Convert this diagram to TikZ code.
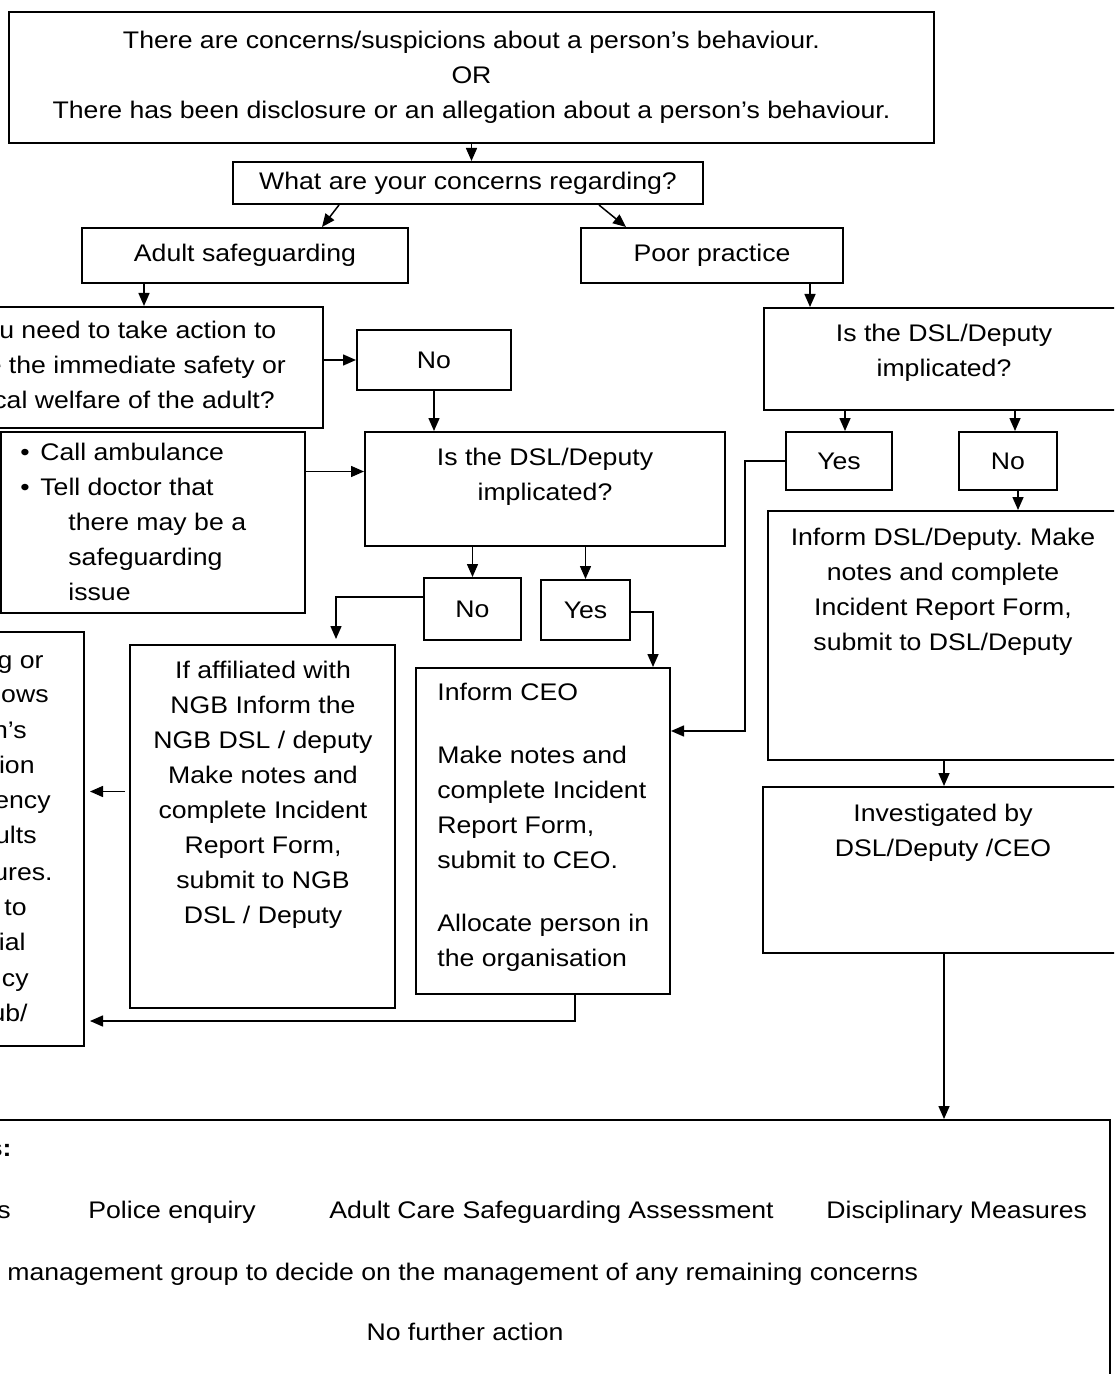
\documentclass[tikz,border=0pt]{standalone}
\usepackage{fontspec}
\setmainfont{Liberation Sans}[FakeStretch=1.11]
\usetikzlibrary{arrows.meta,calc}
\frenchspacing

\tikzset{
  box/.style={draw, line width=1pt, inner sep=0pt, align=center, font=\fontsize{12}{17.5}\selectfont},
  txt/.style={inner sep=0pt, font=\fontsize{12}{17.5}\selectfont},
  arr/.style={line width=0.75pt, -{Triangle[length=6.5pt,width=5.5pt]}}
}

\begin{document}
\begin{tikzpicture}[x=0.5pt, y=-0.5pt]
  \clip (0,0) rectangle (1114,1374);
  \fill[white] (0,0) rectangle (1114,1374);

  % Start of the chart
  \node[box, minimum width=462.5pt, minimum height=65.5pt] (concern) at (471.5,77.5)
    {There are concerns/suspicions about a person’s behaviour.\\OR\\There has been disclosure or an allegation about a person’s behaviour.};
  \node[box, minimum width=235pt, minimum height=21pt] (what) at (468,183) {What are your concerns regarding?};
  \node[box, minimum width=163pt, minimum height=27.5pt] (adult) at (245,255.5) {Adult safeguarding};
  \node[box, minimum width=131pt, minimum height=27.5pt] (poor) at (712,255.5) {Poor practice};

  % Adult safeguarding side
  \node[box, minimum width=220pt, minimum height=60.5pt] (question) at (103,367.5)
    {Do you need to take action to\\ensure the immediate safety or\\physical welfare of the adult?};
  \node[box, minimum width=77pt, minimum height=30pt] (noA) at (434,360) {No};
  \node[box, minimum width=152pt, minimum height=90.5pt] (amb) at (153,522.5) {};
  \node[txt, anchor=west, align=left] (ambtxt) at (20,522)
    {\makebox[10pt][l]{\textbullet}Call ambulance\\\makebox[10pt][l]{\textbullet}Tell doctor that\\\hspace*{24pt}there may be a\\\hspace*{24pt}safeguarding\\\hspace*{24pt}issue};
  \node[box, minimum width=180pt, minimum height=57pt] (dslA) at (545,489) {};
  \node[txt, align=center] (dslAtxt) at (545,477) {Is the DSL/Deputy\\implicated?};
  \node[box, minimum width=48.5pt, minimum height=31pt] (noB) at (472.5,609) {No};
  \node[box, minimum width=44.5pt, minimum height=30pt] (yesB) at (585.5,610) {Yes};
  \node[box, minimum width=132.5pt, minimum height=181.5pt] (ngb) at (262.5,826.5) {};
  \node[txt, align=center] (ngbtxt) at (263,795)
    {If affiliated with\\NGB Inform the\\NGB DSL / deputy\\Make notes and\\complete Incident\\Report Form,\\submit to NGB\\DSL / Deputy};
  \node[box, minimum width=127pt, minimum height=163pt] (ceo) at (543,831) {};
  \node[txt, anchor=west, align=left] (ceotxt) at (437,827)
    {Inform CEO\\[14pt]Make notes and\\complete Incident\\Report Form,\\submit to CEO.\\[14pt]Allocate person in\\the organisation};
  \node[box, minimum width=102pt, minimum height=207pt] (refer) at (-18,839) {};
  \foreach \yy/\xx/\tx [count=\i] in {668/44/{g or}, 702/49/lows, 738/27/n’s, 773/35/ion,
      808/51/ency, 843/37/ults, 880/53/ures., 915/27/to, 950/26/ial, 986/29/cy, 1021/28/{ub/}}
    \node[txt, anchor=base east] (frag\i) at (\xx,\yy) {\tx};

  % Poor practice side
  \node[box, minimum width=180pt, minimum height=51pt] (dslB) at (944,359) {};
  \node[txt, align=center] (dslBtxt) at (944,353) {Is the DSL/Deputy\\implicated?};
  \node[box, minimum width=53pt, minimum height=29pt] (yesC) at (839,461) {Yes};
  \node[box, minimum width=49pt, minimum height=29pt] (noC) at (1008,461) {No};
  \node[box, minimum width=176pt, minimum height=124.5pt] (inform) at (944,635.5) {};
  \node[txt, align=center] (informtxt) at (943,591.5)
    {Inform DSL/Deputy. Make\\notes and complete\\Incident Report Form,\\submit to DSL/Deputy};
  \node[box, minimum width=181pt, minimum height=83pt] (invest) at (944,870) {};
  \node[txt, align=center] (investtxt) at (943,833) {Investigated by\\DSL/Deputy /CEO};

  % Outcomes
  \node[box, minimum width=605pt, minimum height=140pt] (outcome) at (505,1260) {};
  \node[txt, anchor=base east, font=\fontsize{12}{17.5}\selectfont\bfseries] (outhead) at (12,1156) {s:};
  \node[txt, anchor=base east] (outa) at (11,1218) {s};
  \node[txt, anchor=base west] (outb) at (88,1218) {Police enquiry};
  \node[txt, anchor=base west] (outc) at (329,1218) {Adult Care Safeguarding Assessment};
  \node[txt, anchor=base west] (outd) at (826,1218) {Disciplinary Measures};
  \node[txt, anchor=base west] (oute) at (7,1280) {management group to decide on the management of any remaining concerns};
  \node[txt, anchor=base] (outf) at (465,1340) {No further action};

  % Connectors
  \draw[arr] (concern.south) -- (concern.south |- what.north);
  \draw[arr] ($(what.south west)+(107,0)$) -- ($(adult.north)+(77,0)$);
  \draw[arr] ($(what.south west)+(367,0)$) -- ($(poor.north)+(-86,0)$);
  \draw[arr] ($(adult.south)+(-101,0)$) coordinate (a1) -- (a1 |- question.north);
  \draw[arr] (noA.west -| question.east) -- (noA.west);
  \draw[arr] (noA.south) -- (noA.south |- dslA.north);
  \draw[arr] ($(amb.east)+(0,-51)$) coordinate (a2) -- (a2 -| dslA.west);
  \draw[arr] (noB.north |- dslA.south) -- (noB.north);
  \draw[arr] (yesB.north |- dslA.south) -- (yesB.north);
  \draw[arr] ($(noB.west)+(0,-12)$) -| ($(ngb.north)+(73.5,-5)$);
  \draw[arr] ($(yesB.east)+(0,2)$) -| ($(ceo.north)+(110,0)$);
  \draw[arr] ($(ngb.west)+(-4,-35)$) coordinate (a3) -- ($(a3 -| refer.east)+(5,0)$);
  \draw[arr] ($(ceo.south)+(32,0)$) |- ($(refer.east)+(5,182)$);
  \draw[arr] (yesC.west) -- ++(-40,0) |- ($(ceo.east)+(0,-100)$);
  \draw[arr] ($(poor.south)+(98,0)$) coordinate (a4) -- (a4 |- dslB.north);
  \draw[arr] ($(yesC.north |- dslB.south)+(6,0)$) -- ($(yesC.north)+(6,0)$);
  \draw[arr] ($(noC.north |- dslB.south)+(7,0)$) -- ($(noC.north)+(7,0)$);
  \draw[arr] ($(noC.south)+(10,0)$) coordinate (a5) -- (a5 |- inform.north);
  \draw[arr] (inform.south) -- (inform.south |- invest.north);
  \draw[arr] (invest.south) -- (invest.south |- outcome.north);
\end{tikzpicture}
\end{document}
